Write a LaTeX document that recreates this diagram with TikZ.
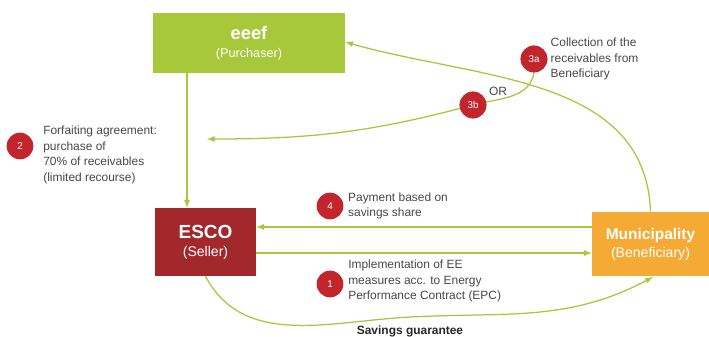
\documentclass[tikz,border=0pt]{standalone}
\usepackage{fontspec}
\setmainfont{Liberation Sans}
\usetikzlibrary{arrows,positioning}
\definecolor{eeefgreen}{HTML}{A8C83C}
\definecolor{escored}{HTML}{A3282B}
\definecolor{muniorange}{HTML}{F4AA35}
\definecolor{badgered}{HTML}{C2262C}
\definecolor{notegray}{HTML}{474747}
\tikzset{party/.style={draw=none, text=white, align=center, inner sep=0pt},
  flow/.style={draw=eeefgreen, ->, >=latex, line width=0.9pt},
  badge/.style={circle, fill=badgered, text=white, minimum size=19pt, inner sep=0pt, font=\fontsize{7}{8}\selectfont},
  note/.style={align=left, text=notegray, inner sep=0pt, font=\fontsize{8.5}{11}\selectfont}}

\begin{document}
\begin{tikzpicture}[x=0.025cm, y=-0.025cm]
        \useasboundingbox (0,0) rectangle (709,336);
        % parties
        \node[party, fill=eeefgreen, minimum width=4.8cm, minimum height=1.5cm] (eeef) at (249,43)
            {{\fontsize{13}{15}\selectfont\bfseries eeef}\\[1pt]{\fontsize{9}{11}\selectfont(Purchaser)}};
        \node[party, fill=escored, minimum width=2.525cm, minimum height=1.7cm] (esco) at (205.5,242)
            {{\fontsize{13.5}{16}\selectfont\bfseries ESCO}\\[1pt]{\fontsize{10}{12}\selectfont(Seller)}};
        \node[party, fill=muniorange, minimum width=2.925cm, minimum height=1.6cm] (muni) at (650.5,244)
            {{\fontsize{11}{13}\selectfont\bfseries Municipality}\\[1pt]{\fontsize{10}{12}\selectfont(Beneficiary)}};
        \coordinate (ret) at (207,139);
        % flows
        \draw[flow] (eeef.south -| 187,0) -- (esco.north -| 187,0);
        \draw[flow] (muni.west |- 0,227) -- (esco.east |- 0,227);
        \draw[flow] (esco.east |- 0,253) -- (muni.west |- 0,253);
        \draw[flow] (esco.south) to[out=-62, in=183] (410,317) to[out=3, in=-152] (653,277);
        \draw[flow] (muni.north) to[out=92, in=-16] (eeef.east |- 0,42);
        \node[badge] (b3a) at (534,59) {3a};
        \node[badge] (b3b) at (473,105) {3b};
        \draw[flow] (b3a.south) to[out=-100, in=15] (b3b.center) to[out=195, in=0] (ret);
        \node[badge] at (534,59) {3a};
        \node[badge] at (473,105) {3b};
        \node[note] at (498,91) {OR};
        % steps
        \node[badge] (b2) at (20,146) {2};
        \node[badge] (b4) at (330,206) {4};
        \node[badge] (b1) at (330,284) {1};
        \node[note, anchor=west] (n2) at (43,155) {Forfaiting agreement:\\purchase of\\70\% of receivables\\(limited recourse)};
        \node[note, right=2pt of b3a] (n3a) {Collection of the\\receivables from\\Beneficiary};
        \node[note, right=3pt of b4] (n4) {Payment based on\\savings share};
        \node[note, anchor=west] (n1) at (348,281) {Implementation of EE\\measures acc. to Energy\\Performance Contract (EPC)};
        \node[note, font=\fontsize{8.5}{11}\selectfont\bfseries, text=black!85] (sg) at (410,331) {Savings guarantee};
    \end{tikzpicture}
\end{document}
